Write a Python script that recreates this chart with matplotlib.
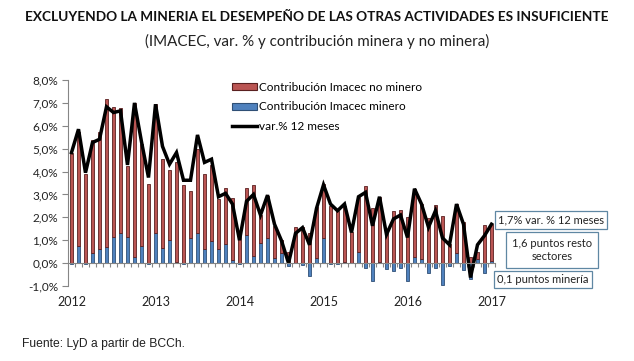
import numpy as np
import matplotlib.pyplot as plt
from matplotlib.patches import Patch
from matplotlib.lines import Line2D
from matplotlib.ticker import FuncFormatter, FixedLocator

plt.rcParams['font.family'] = ['Lato', 'DejaVu Sans']

# monthly, Jan 2012 .. Jan 2017
years = ['2012', '2013', '2014', '2015', '2016', '2017']
no_minero = [4.83, 4.95, 3.89, 4.95, 5.12, 6.45, 5.68, 5.46, 3.13, 6.72,
             4.44, 3.45, 5.63, 3.88, 3.08, 4.36, 3.42, 2.07, 3.67, 3.28,
             3.30, 2.19, 2.47, 2.71, 1.34, 2.08, 3.11, 1.25, 1.85, 1.41,
             0.58, 0.47, 1.56, 1.59, 1.31, 2.21, 2.36, 2.50, 2.29, 2.47,
             1.34, 2.43, 3.38, 2.40, 2.82, 1.50, 2.29, 2.30, 2.02, 2.95,
             2.40, 1.97, 2.53, 2.07, 0.83, 2.16, 1.78, 0.28, 0.30, 1.67,
             1.60]
minero = [-0.03, 0.76, -0.03, 0.42, 0.61, 0.71, 1.15, 1.31, 1.12, 0.28,
          0.76, -0.05, 1.31, 0.66, 1.00, 0.04, -0.03, 1.09, 1.31, 0.61,
          0.98, 0.60, 0.83, 0.13, -0.03, 1.22, 0.30, 0.86, 1.09, 0.22,
          0.42, -0.12, 0.02, -0.07, -0.55, 0.22, 1.09, -0.03, -0.03, 0.03,
          0.02, 0.47, -0.22, -0.80, 0.05, -0.26, -0.36, -0.20, -0.80, 0.28,
          0.17, -0.42, -0.22, -0.95, -0.12, 0.42, -0.31, -0.70, 0.20, -0.44,
          0.10]
var_12m = [4.83, 5.85, 3.95, 5.27, 5.41, 6.83, 6.58, 6.65, 4.29, 7.00,
           5.30, 3.74, 6.94, 5.10, 4.32, 4.83, 3.62, 3.62, 5.60, 4.40,
           4.54, 2.90, 3.05, 2.58, 1.00, 2.70, 3.00, 2.10, 2.97, 1.70,
           0.98, 0.00, 1.30, 1.55, 0.80, 2.39, 3.42, 2.58, 2.29, 2.58,
           1.34, 2.90, 3.09, 1.63, 2.90, 1.25, 1.93, 2.10, 1.12, 3.25,
           2.58, 1.57, 2.29, 1.10, 0.80, 2.58, 1.70, -0.63, 0.80, 1.20,
           1.70]

x = np.arange(len(var_12m))
mi = np.array(minero)
nm = np.array(no_minero)
nm_bottom = np.where(mi > 0, mi, 0)

fig = plt.figure(figsize=(6.34, 3.61), dpi=100)
ax = fig.add_axes([68/634, 1-286/361, 427/634, 206/361])

ax.bar(x, mi, width=0.55, color='#4F81BD', edgecolor='#2F4F75', linewidth=0.6)
ax.bar(x, nm, bottom=nm_bottom, width=0.55, color='#BA5553', edgecolor='#5A2020', linewidth=0.6)
ax.plot(x, var_12m, color='black', lw=2.5, solid_joinstyle='miter')

ax.set_xlim(-0.5, len(x) - 0.5)
ax.set_ylim(-1, 8)
ax.set_yticks(np.arange(-1, 8.5, 1))
ax.yaxis.set_major_formatter(FuncFormatter(lambda v, p: ('%.1f%%' % v).replace('.', ',')))
ax.tick_params(axis='y', labelsize=8.5, length=4, color='#868686', pad=3)
ax.tick_params(axis='y', labelcolor='#222222')

for s in ['top', 'right']:
    ax.spines[s].set_visible(False)
ax.spines['left'].set_color('#868686')
ax.spines['bottom'].set_position(('data', 0))
ax.spines['bottom'].set_color('#868686')
ax.xaxis.set_major_locator(FixedLocator(np.arange(0.5, len(x), 1)))
ax.tick_params(axis='x', length=3, color='#868686', labelbottom=False)

for i, yr in enumerate(years):
    ax.text(i * 12, -0.078, yr, transform=ax.get_xaxis_transform(),
            ha='center', va='center', fontsize=9, color='#222222')

handles = [Patch(facecolor='#BA5553', edgecolor='#5A2020', lw=0.8),
           Patch(facecolor='#4F81BD', edgecolor='#2F4F75', lw=0.8),
           Line2D([], [], color='black', lw=2.5)]
labels = ['Contribución Imacec no minero', 'Contribución Imacec minero', 'var.% 12 meses']
fig.legend(handles, labels, loc='upper left', bbox_to_anchor=(226/634, 1-76/361),
           frameon=False, fontsize=8.5, handlelength=2.1, handleheight=0.55,
           handletextpad=0.2, labelspacing=0.72, borderpad=0)

box = dict(boxstyle='square,pad=0.3', facecolor='white', edgecolor='#5F87A3', lw=0.9)
fig.text(551/634, 1-220/361, '1,7% var. % 12 meses', ha='center', va='center',
         fontsize=8, bbox=box, color='#222222')
fig.text(552/634, 1-250/361, '1,6 puntos resto\nsectores', ha='center', va='center',
         fontsize=8, bbox=dict(box, boxstyle='square,pad=0.5'), color='#222222', linespacing=1.3)
fig.text(543/634, 1-279.5/361, '0,1 puntos minería', ha='center', va='center',
         fontsize=8, bbox=box, color='#222222')

fig.text(0.5, 1-17/361, 'EXCLUYENDO LA MINERIA EL DESEMPEÑO DE LAS OTRAS ACTIVIDADES ES INSUFICIENTE',
         ha='center', va='center', fontsize=9.8, fontweight='bold', color='#111111')
fig.text(0.5, 1-41/361, '(IMACEC, var. % y contribución minera y no minera)',
         ha='center', va='center', fontsize=10.9, color='#222222')
fig.text(22/634, 1-344/361, 'Fuente: LyD a partir de BCCh.', ha='left', va='center',
         fontsize=8.7, family=['Liberation Sans', 'DejaVu Sans'], color='#222222')

fig.savefig('out.png', dpi=100)
